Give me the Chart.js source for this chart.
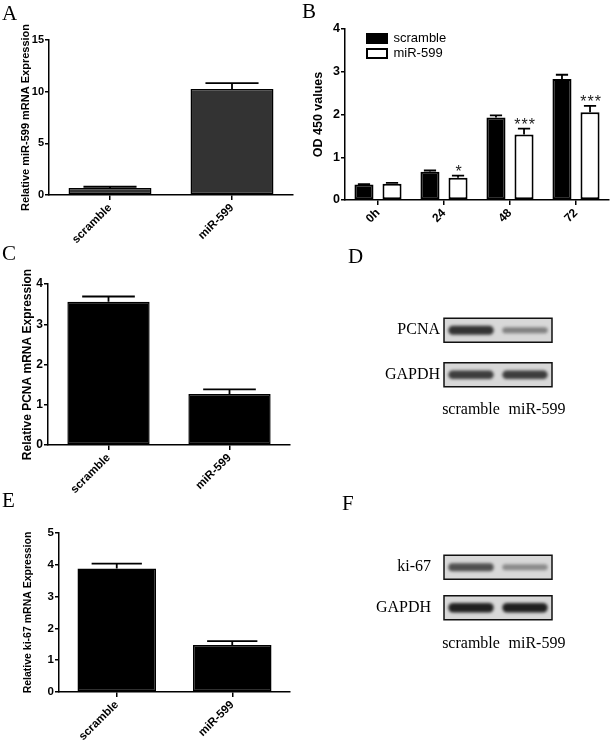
<!DOCTYPE html>
<html>
<head>
<meta charset="utf-8">
<title>miR-599 proliferation figure</title>
<script src="https://cdn.jsdelivr.net/npm/chart.js@4.4.1/dist/chart.umd.min.js"></script>
<style>
  body { margin: 0; background: #fff; }
  #page { position: relative; width: 610px; height: 746px; overflow: hidden; background: #fff; }
  .panel { position: absolute; }
  .letter { position: absolute; font-family: "Liberation Serif", "Times New Roman", serif; font-size: 21px; line-height: 21px; color: #000; }
</style>
</head>
<body>
<div id="page">
  <div class="panel" style="left:0;top:0;width:300px;height:270px"><canvas id="chartA"></canvas></div>
  <div class="panel" style="left:300px;top:0;width:310px;height:250px"><canvas id="chartB"></canvas></div>
  <div class="panel" style="left:0;top:240px;width:300px;height:270px"><canvas id="chartC"></canvas></div>
  <div class="panel" style="left:300px;top:240px;width:310px;height:250px"><canvas id="chartD"></canvas></div>
  <div class="panel" style="left:0;top:490px;width:300px;height:256px"><canvas id="chartE"></canvas></div>
  <div class="panel" style="left:300px;top:490px;width:310px;height:256px"><canvas id="chartF"></canvas></div>
  <div class="letter" style="left:2px;top:3px">A</div>
  <div class="letter" style="left:302px;top:1px">B</div>
  <div class="letter" style="left:2px;top:243px">C</div>
  <div class="letter" style="left:348px;top:246px">D</div>
  <div class="letter" style="left:2px;top:490px">E</div>
  <div class="letter" style="left:342px;top:493px">F</div>
</div>
<script>
// ---- data ----
const groups = ['scramble', 'miR-599'];

// A: relative miR-599 expression
const valuesA = [0.68, 10.25];
const errorsA = [0.12, 0.57];

// B: OD450 time course
const timesB = ['0h', '24', '48', '72'];
const scrambleB = [0.36, 0.66, 1.93, 2.83];
const scrambleErrB = [0.01, 0.03, 0.05, 0.1];
const mirB = [0.38, 0.52, 1.53, 2.05];
const mirErrB = [0.02, 0.05, 0.14, 0.15];
const starsB = ['', '*', '***', '***'];

// C: relative PCNA expression
const valuesC = [3.56, 1.27];
const errorsC = [0.13, 0.11];

// E: relative ki-67 expression
const valuesE = [3.88, 1.48];
const errorsE = [0.16, 0.12];

// D / F: western blot band intensities (0..1)
const lanes = ['scramble', 'miR-599'];
const rowsD = ['PCNA', 'GAPDH'];
const bandsPCNA = [0.85, 0.45];
const bandsGapdhD = [0.8, 0.8];
const rowsF = ['ki-67', 'GAPDH'];
const bandsKi67 = [0.7, 0.4];
const bandsGapdhF = [0.95, 0.95];

Chart.defaults.font.family = '"Liberation Sans", Arial, sans-serif';
Chart.defaults.color = '#000';
Chart.defaults.animation = false;

const SERIF = '"Liberation Serif", "Times New Roman", serif';

// work out padding / fixed scale sizes so the plot area lands where it should
function placement(box, area) {
    return {
        padding: { left: 0, top: area.t - box.top, right: box.left + box.width - area.r, bottom: 0 },
        yWidth: area.l - box.left,
        xHeight: box.top + box.height - area.b
    };
}

// upward error bars plus significance stars
const errorBars = {
    id: 'errorBars',
    afterDatasetsDraw(chart) {
        const ctx = chart.ctx;
        const yScale = chart.scales.y;
        chart.data.datasets.forEach((ds, di) => {
            if (!ds.errors) return;
            const meta = chart.getDatasetMeta(di);
            meta.data.forEach((bar, i) => {
                const top = yScale.getPixelForValue(ds.data[i] + ds.errors[i]);
                const half = bar.width * 0.32;
                ctx.save();
                ctx.strokeStyle = '#000';
                ctx.lineWidth = 1.8;
                ctx.beginPath();
                ctx.moveTo(bar.x, bar.y);
                ctx.lineTo(bar.x, top);
                ctx.moveTo(bar.x - half, top);
                ctx.lineTo(bar.x + half, top);
                ctx.stroke();
                if (ds.stars && ds.stars[i]) {
                    ctx.fillStyle = '#222';
                    ctx.font = '16px "Liberation Sans", Arial, sans-serif';
                    ctx.letterSpacing = '1px';
                    ctx.textAlign = 'center';
                    ctx.textBaseline = 'alphabetic';
                    ctx.fillText(ds.stars[i], bar.x + 1, top + 1);
                }
                ctx.restore();
            });
        });
    }
};

// the legend sits inside the plot, a little in from the y axis
const legendInside = {
    id: 'legendInside',
    afterLayout(chart) {
        if (!chart.legend || !chart.legend.options.display) return;
        chart.legend.left = chart.chartArea.left + 20;
        chart.legend.top = chart.chartArea.top + 1;
    }
};

function barChart(id, box, area, opts) {
    const p = placement(box, area);
    return new Chart(document.getElementById(id), {
        type: 'bar',
        data: { labels: opts.labels, datasets: opts.datasets },
        options: {
            responsive: true,
            maintainAspectRatio: false,
            layout: { padding: p.padding },
            plugins: {
                legend: opts.legend || { display: false },
                tooltip: { enabled: false }
            },
            scales: {
                x: {
                    offset: true,
                    ticks: { minRotation: 45, maxRotation: 45, padding: 1, font: { weight: 'bold', size: opts.xTickSize } },
                    grid: { offset: false, drawOnChartArea: false, tickLength: 5, color: '#000', lineWidth: 1.5 },
                    border: { display: true, color: '#000', width: 1.5 },
                    afterFit: s => { s.height = p.xHeight; }
                },
                y: {
                    min: 0,
                    max: opts.yMax,
                    ticks: { stepSize: opts.step, padding: 1, font: { weight: 'bold', size: opts.yTickSize } },
                    grid: { drawOnChartArea: false, tickLength: 4, color: '#000', lineWidth: 1.5 },
                    border: { display: true, color: '#000', width: 1.5 },
                    title: {
                        display: true,
                        text: opts.title,
                        font: { weight: 'bold', size: opts.titleSize },
                        padding: { top: opts.titlePad, bottom: 0 }
                    },
                    afterFit: s => { s.width = p.yWidth; }
                }
            }
        },
        plugins: [errorBars, legendInside]
    });
}

function singleBar(values, errors, fill) {
    return [{
        label: 'expression',
        data: values,
        errors: errors,
        backgroundColor: fill,
        borderColor: '#000',
        borderWidth: 1.5,
        borderSkipped: false,
        categoryPercentage: 0.8,
        barPercentage: 0.85
    }];
}

// Panel A
barChart('chartA', { left: 0, top: 0, width: 300, height: 270 }, { l: 49, t: 40, r: 293, b: 195 }, {
    labels: groups,
    datasets: singleBar(valuesA, errorsA, '#333333'),
    yMax: 15, step: 5, yTickSize: 11, xTickSize: 11.5,
    title: 'Relative miR-599 mRNA Expression', titleSize: 11, titlePad: 19.5
});

// Panel B
barChart('chartB', { left: 300, top: 0, width: 310, height: 250 }, { l: 345, t: 29, r: 609, b: 200 }, {
    labels: timesB,
    datasets: [
        {
            label: 'scramble', data: scrambleB, errors: scrambleErrB,
            backgroundColor: '#000', borderColor: '#000', borderWidth: 2, borderSkipped: false,
            categoryPercentage: 0.85, barPercentage: 0.68
        },
        {
            label: 'miR-599', data: mirB, errors: mirErrB, stars: starsB,
            backgroundColor: '#fff', borderColor: '#000', borderWidth: 2, borderSkipped: false,
            categoryPercentage: 0.85, barPercentage: 0.68
        }
    ],
    legend: {
        display: true,
        position: 'chartArea',
        align: 'start',
        labels: { boxWidth: 20, boxHeight: 9, padding: 2, font: { size: 13 } }
    },
    yMax: 4, step: 1, yTickSize: 12.5, xTickSize: 12,
    title: 'OD 450 values', titleSize: 12.5, titlePad: 11
});

// Panel C
barChart('chartC', { left: 0, top: 240, width: 300, height: 270 }, { l: 48, t: 284, r: 290, b: 445 }, {
    labels: groups,
    datasets: singleBar(valuesC, errorsC, '#000'),
    yMax: 4, step: 1, yTickSize: 12, xTickSize: 11.5,
    title: 'Relative PCNA mRNA Expression', titleSize: 12, titlePad: 20.5
});

// Panel E
barChart('chartE', { left: 0, top: 490, width: 300, height: 256 }, { l: 59, t: 533, r: 290, b: 692 }, {
    labels: groups,
    datasets: singleBar(valuesE, errorsE, '#000'),
    yMax: 5, step: 1, yTickSize: 11.5, xTickSize: 11.5,
    title: 'Relative ki-67 mRNA Expression', titleSize: 10.5, titlePad: 22
});

// western blot: grey membrane strips per row, one blurred band per lane
const blotBands = {
    id: 'blotBands',
    beforeDatasetsDraw(chart) {
        const ctx = chart.ctx;
        const area = chart.chartArea;
        const yScale = chart.scales.y;
        yScale.ticks.forEach((t, i) => {
            const y = yScale.getPixelForTick(i);
            ctx.save();
            ctx.fillStyle = '#d8d8d8';
            ctx.strokeStyle = '#111';
            ctx.lineWidth = 1.5;
            ctx.fillRect(area.left, y - 12, area.right - area.left, 24);
            ctx.strokeRect(area.left, y - 12, area.right - area.left, 24);
            ctx.restore();
        });
    },
    afterDatasetsDraw(chart) {
        const ctx = chart.ctx;
        const laneW = (chart.chartArea.right - chart.chartArea.left) / lanes.length;
        chart.data.datasets.forEach((ds, di) => {
            chart.getDatasetMeta(di).data.forEach((pt, i) => {
                const v = ds.data[i].v;
                const w = laneW * 0.84;
                const h = 3 + 7 * v;
                ctx.save();
                ctx.filter = 'blur(1.6px)';
                ctx.fillStyle = 'rgba(22,22,22,' + v + ')';
                ctx.beginPath();
                ctx.roundRect(pt.x - w / 2, pt.y - h / 2, w, h, h / 2);
                ctx.fill();
                ctx.restore();
            });
        });
    }
};

function blotChart(id, box, area, rows, bandRows, yPad, xPad) {
    const p = placement(box, area);
    const datasets = rows.map((row, r) => ({
        label: row,
        data: lanes.map((lane, i) => ({ x: lane, y: row, v: bandRows[r][i] })),
        pointRadius: 0
    }));
    return new Chart(document.getElementById(id), {
        type: 'scatter',
        data: { datasets: datasets },
        options: {
            responsive: true,
            maintainAspectRatio: false,
            layout: { padding: p.padding },
            plugins: { legend: { display: false }, tooltip: { enabled: false } },
            scales: {
                x: {
                    type: 'category', labels: lanes, offset: true,
                    grid: { display: false, drawTicks: false }, border: { display: false },
                    ticks: {
                        padding: xPad, autoSkip: false, minRotation: 0, maxRotation: 0,
                        font: { family: SERIF, size: 16 },
                        // the lane captions in the figure sit a bit right of the second lane
                        callback: (v, i) => (i === 1 ? '      ' : '') + lanes[i]
                    },
                    afterFit: s => { s.height = p.xHeight; }
                },
                y: {
                    type: 'category', labels: rows, offset: true,
                    grid: { display: false, drawTicks: false }, border: { display: false },
                    ticks: { padding: yPad, font: { family: SERIF, size: 16 } },
                    afterFit: s => { s.width = p.yWidth; }
                }
            }
        },
        plugins: [blotBands]
    });
}

blotChart('chartD', { left: 300, top: 240, width: 310, height: 250 }, { l: 444, t: 308, r: 552, b: 397 },
    rowsD, [bandsPCNA, bandsGapdhD], 4, 3);
blotChart('chartF', { left: 300, top: 490, width: 310, height: 256 }, { l: 444, t: 547, r: 552, b: 628 },
    rowsF, [bandsKi67, bandsGapdhF], 13, 6);
</script>
</body>
</html>
